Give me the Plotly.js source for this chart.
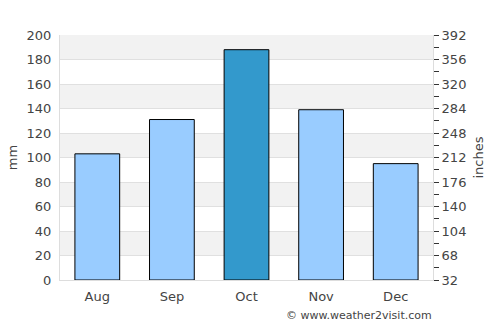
<!DOCTYPE html>
<html><head><meta charset="utf-8">
<script src="https://cdn.plot.ly/plotly-3.0.1.min.js"></script>
<style>html,body{margin:0;padding:0;background:#fff}#chart{width:500px;height:325px}</style>
</head><body><div id="chart"></div>
<script>
const months = ["Aug", "Sep", "Oct", "Nov", "Dec"];
const rainMm = [103, 131, 188, 139, 95];
const barColors = ["#99ccff", "#99ccff", "#3399cc", "#99ccff", "#99ccff"];
const leftTicks = [0, 20, 40, 60, 80, 100, 120, 140, 160, 180, 200];
const rightTicks = [32, 68, 104, 140, 176, 212, 248, 284, 320, 356, 392];
const bandStarts = [20, 60, 100, 140, 180];

const font = {family: "DejaVu Sans, sans-serif", size: 13, color: "#444"};

const shapes = bandStarts.map(b => ({
  type: "rect", xref: "paper", yref: "y", x0: 0, x1: 1, y0: b, y1: b + 20,
  fillcolor: "#f2f2f2", line: {width: 0}, layer: "below"
}));

const data = [
  {type: "bar", x: months, y: rainMm, width: 0.6,
   marker: {color: barColors, line: {color: "#000", width: 1}},
   hoverinfo: "skip"},
  {type: "scatter", x: months, y: months.map(() => null), yaxis: "y2",
   mode: "markers", showlegend: false, hoverinfo: "skip"}
];

const layout = {
  width: 500, height: 325,
  margin: {l: 60, r: 67, t: 35, b: 45},
  paper_bgcolor: "#fff", plot_bgcolor: "#fff",
  showlegend: false, font: font, bargap: 0.4,
  shapes: shapes,
  xaxis: {type: "category", showgrid: false, ticks: "", showline: true,
    linecolor: "#dddddd", linewidth: 1, mirror: false, tickfont: font,
    ticklabelstandoff: 4},
  yaxis: {range: [0, 200], tickvals: leftTicks, ticks: "", showgrid: true,
    gridcolor: "#e0e0e0", gridwidth: 1, zeroline: false, showline: true,
    linecolor: "#dddddd", linewidth: 1, tickfont: font, ticklabelstandoff: 5,
    title: {text: "mm", font: font, standoff: 6}},
  yaxis2: {overlaying: "y", side: "right", range: [32, 392], tickvals: rightTicks,
    ticks: "outside", ticklen: 5, tickcolor: "#333", showgrid: false,
    zeroline: false, showline: true, linecolor: "#dddddd", tickfont: font,
    minor: {dtick: 18, tick0: 32, ticks: "outside", ticklen: 5, tickcolor: "#333", showgrid: false},
    title: {text: "inches", font: font, standoff: 8}},
  annotations: [{text: "© www.weather2visit.com", xref: "paper", yref: "paper",
    x: 1.003, y: -0.11, xanchor: "right", yanchor: "top", showarrow: false,
    font: {family: "DejaVu Sans, sans-serif", size: 11, color: "#444"}}]
};

Plotly.newPlot("chart", data, layout, {displayModeBar: false, staticPlot: true});
</script></body></html>
